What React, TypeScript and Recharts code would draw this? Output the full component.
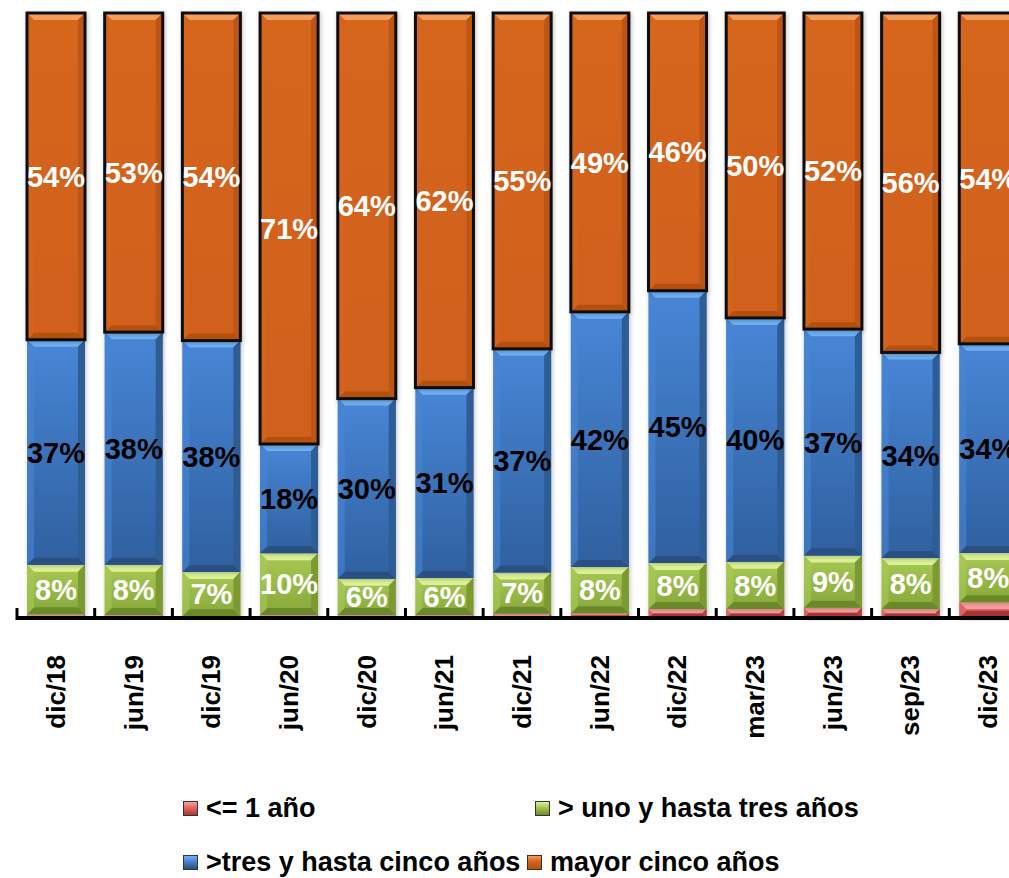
import { BarChart, Bar, XAxis, YAxis, LabelList } from "recharts"

const categories = ["dic/18", "jun/19", "dic/19", "jun/20", "dic/20", "jun/21", "dic/21", "jun/22", "dic/22", "mar/23", "jun/23", "sep/23", "dic/23"]
const hastaUno = [0.6, 0.5, 0.3, 0.5, 0.5, 0.5, 0.7, 0.8, 1.5, 1.5, 1.7, 1.5, 2.6]
const unoATres = [8.2, 8.3, 7.3, 10.2, 6.0, 6.1, 6.8, 7.6, 7.6, 7.8, 8.6, 8.4, 8.1]
const tresACinco = [37.2, 38.4, 38.3, 18.0, 29.8, 31.4, 36.9, 42.1, 45.0, 40.3, 37.4, 34.0, 34.4]
const mayorCinco = [54.0, 52.7, 54.2, 71.1, 63.8, 61.8, 55.4, 49.3, 45.9, 50.4, 52.2, 56.1, 54.4]

const data = categories.map((cat, i) => ({
  cat,
  hastaUno: hastaUno[i],
  unoATres: unoATres[i],
  tresACinco: tresACinco[i],
  mayorCinco: mayorCinco[i],
}))

const FONT = "'Liberation Sans', Arial, sans-serif"

// colores de cada serie: cara, borde claro, borde oscuro
const palette = {
  red: { top: "#e86a68", bottom: "#c84442", light: "#f6a09c", dark: "#a83634", side: "#b9403e" },
  green: { top: "#a9c955", bottom: "#87a73a", light: "#dcf296", dark: "#6b8a2c", side: "#7c9a33" },
  blue: { top: "#4886d6", bottom: "#2f609f", light: "#6fb0f4", dark: "#294f82", side: "#2e5b94" },
  orange: { top: "#d6661c", bottom: "#d0601a", light: "#f59d5a", dark: "#b5500f", side: "#bd5512" },
}

type Pal = typeof palette.red

const bevelShape = (key: string, pal: Pal, outline: boolean) => (props: any) => {
  const { x, y, width, height } = props
  if (!width || !height || height <= 0) return <g />
  const b = Math.min(7, height / 2, width / 2)
  const x2 = x + width
  const y2 = y + height
  return (
    <g filter="url(#shadow)">
      <rect x={x} y={y} width={width} height={height} fill={`url(#grad-${key})`} />
      <polygon points={`${x},${y} ${x2},${y} ${x2 - b},${y + b} ${x + b},${y + b}`} fill={pal.light} />
      <polygon points={`${x},${y2} ${x2},${y2} ${x2 - b},${y2 - b} ${x + b},${y2 - b}`} fill={pal.dark} />
      <polygon points={`${x},${y} ${x + b},${y + b} ${x + b},${y2 - b} ${x},${y2}`} fill={pal.top} opacity={0.6} />
      <polygon points={`${x2},${y} ${x2 - b},${y + b} ${x2 - b},${y2 - b} ${x2},${y2}`} fill={pal.side} />
      {outline && (
        <rect x={x} y={y} width={width} height={height} fill="none" stroke="#111" strokeWidth={3} />
      )}
    </g>
  )
}

// etiqueta vertical + marca de separación entre categorías
const CatTick = (props: any) => {
  const { x, y, payload, width, visibleTicksCount, index } = props
  const half = width && visibleTicksCount ? width / visibleTicksCount / 2 : 38.85
  const isLast = index === visibleTicksCount - 1
  return (
    <g>
      <line x1={x - half} x2={x - half} y1={y - 10} y2={y + 2} stroke="#000" strokeWidth={3} />
      {isLast && <line x1={x + half} x2={x + half} y1={y - 10} y2={y + 2} stroke="#000" strokeWidth={3} />}
      <g transform={`translate(${x},${y + 37})`}>
        <text
          transform="rotate(-90)"
          textAnchor="end"
          dominantBaseline="central"
          fontFamily={FONT}
          fontWeight="bold"
          fontSize={26}
          fill="#000"
        >
          {payload.value}
        </text>
      </g>
    </g>
  )
}

const pct = (v: any) => `${Math.round(Number(v))}%`

const labelStyle = (fill: string) => ({
  fill,
  fontFamily: FONT,
  fontWeight: "bold" as const,
  fontSize: 29,
})

const legendItems = [
  { name: "<= 1 año", pal: palette.red, left: 183, top: 808 },
  { name: "> uno y hasta tres años", pal: palette.green, left: 535, top: 808 },
  { name: ">tres y hasta cinco años", pal: palette.blue, left: 183, top: 862 },
  { name: "mayor cinco años", pal: palette.orange, left: 527, top: 862 },
]

export default function App() {
  return (
    <div
      style={{
        position: "fixed",
        left: 0,
        top: 0,
        width: 1009,
        height: 878,
        overflow: "hidden",
        background: "#fff",
      }}
    >
      <BarChart
        width={1027}
        height={878}
        data={data}
        stackOffset="expand"
        barSize={58}
        margin={{ top: 13, right: 0, left: 17, bottom: 0 }}
      >
        <defs>
          {Object.entries(palette).map(([k, p]) => (
            <linearGradient key={k} id={`grad-${k}`} x1="0" y1="0" x2="0" y2="1">
              <stop offset="0%" stopColor={p.top} />
              <stop offset="100%" stopColor={p.bottom} />
            </linearGradient>
          ))}
          <filter id="shadow" x="-20%" y="-20%" width="140%" height="140%">
            <feDropShadow dx="1" dy="1" stdDeviation="2" floodColor="#000" floodOpacity="0.25" />
          </filter>
        </defs>
        <XAxis
          dataKey="cat"
          interval={0}
          height={260}
          tickLine={false}
          tickSize={0}
          tickMargin={0}
          axisLine={{ stroke: "#000", strokeWidth: 4 }}
          tick={<CatTick />}
        />
        <YAxis hide domain={[0, 1]} />
        <Bar dataKey="hastaUno" stackId="a" isAnimationActive={false} shape={bevelShape("red", palette.red, false)} />
        <Bar dataKey="unoATres" stackId="a" isAnimationActive={false} shape={bevelShape("green", palette.green, false)}>
          <LabelList dataKey="unoATres" position="center" formatter={pct} style={labelStyle("#fff")} />
        </Bar>
        <Bar dataKey="tresACinco" stackId="a" isAnimationActive={false} shape={bevelShape("blue", palette.blue, false)}>
          <LabelList dataKey="tresACinco" position="center" formatter={pct} style={labelStyle("#000")} />
        </Bar>
        <Bar dataKey="mayorCinco" stackId="a" isAnimationActive={false} shape={bevelShape("orange", palette.orange, true)}>
          <LabelList dataKey="mayorCinco" position="center" formatter={pct} style={labelStyle("#fff")} />
        </Bar>
      </BarChart>

      {legendItems.map((item) => (
        <div
          key={item.name}
          style={{
            position: "absolute",
            left: item.left,
            top: item.top - 16,
            height: 32,
            display: "flex",
            alignItems: "center",
            gap: 8,
            fontFamily: FONT,
            fontWeight: "bold",
            fontSize: 27,
            whiteSpace: "nowrap",
            color: "#000",
          }}
        >
          <span
            style={{
              display: "inline-block",
              width: 13,
              height: 13,
              border: "1px solid #333",
              background: `linear-gradient(${item.pal.light}, ${item.pal.top} 40%, ${item.pal.dark})`,
            }}
          />
          <span>{item.name}</span>
        </div>
      ))}
    </div>
  )
}
